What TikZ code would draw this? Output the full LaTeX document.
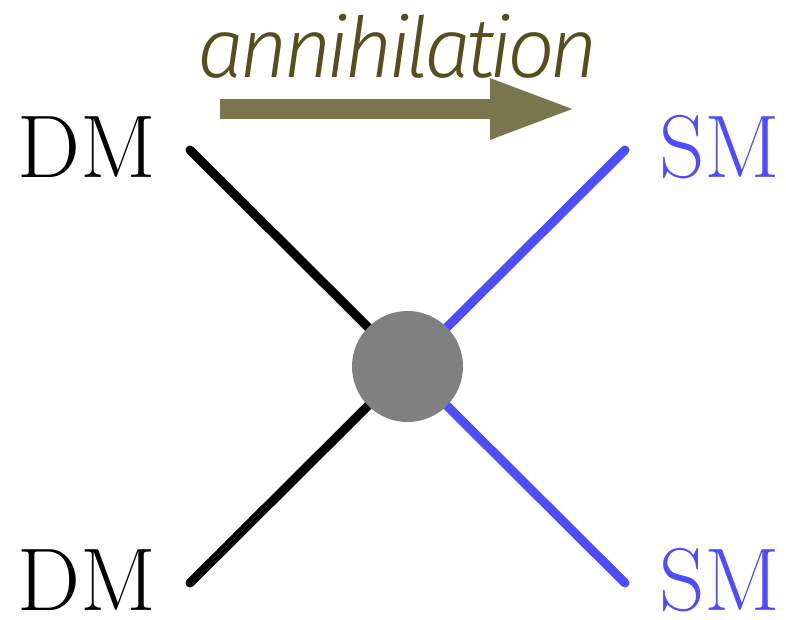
\documentclass[tikz,border=0pt]{standalone}
\usepackage{fontspec}
\usetikzlibrary{arrows.meta}
\newfontfamily\annfont[LetterSpace=-6]{Fira Sans Light Italic}
\definecolor{smblue}{RGB}{77,77,255}
\definecolor{olivearrow}{RGB}{123,117,77}
\definecolor{olivetext}{RGB}{85,79,30}
\begin{document}
\begin{tikzpicture}[x=1pt,y=-1pt,
  leg/.style={line width=9pt,line cap=round},
  particle/.style={inner sep=0pt,anchor=base,text depth=0pt,font=\fontsize{89}{95}\selectfont}]
\useasboundingbox (0,0) rectangle (786,619);
% vertex
\coordinate (c) at (407.5,366.5);
\coordinate (tl) at (190,150);
\coordinate (bl) at (190,583);
\coordinate (tr) at (625,150);
\coordinate (br) at (625,583);
\draw[leg,black] (tl) -- (c);
\draw[leg,black] (bl) -- (c);
\draw[leg,smblue] (tr) -- (c);
\draw[leg,smblue] (br) -- (c);
\node[circle,fill={rgb,255:red,128;green,128;blue,128},minimum size=111pt,inner sep=0pt] (blob) at (c) {};
% external particles
\node[particle] (dmtop) at (87,177) {DM};
\node[particle] (dmbot) at (87,610) {DM};
\node[particle,text=smblue] (smtop) at (720,177) {SM};
\node[particle,text=smblue] (smbot) at (720,610) {SM};
% process arrow
\coordinate (as) at (220,109);
\coordinate (ae) at (577,109);
\draw[olivearrow,line width=20pt,-{Triangle[length=87pt,width=55pt]}] (as) -- (ae);
\node[inner sep=0pt,anchor=base,text=olivetext,font=\annfont\fontsize{84}{90}\selectfont] (ann) at (398,77) {annihilation};
\end{tikzpicture}
\end{document}
